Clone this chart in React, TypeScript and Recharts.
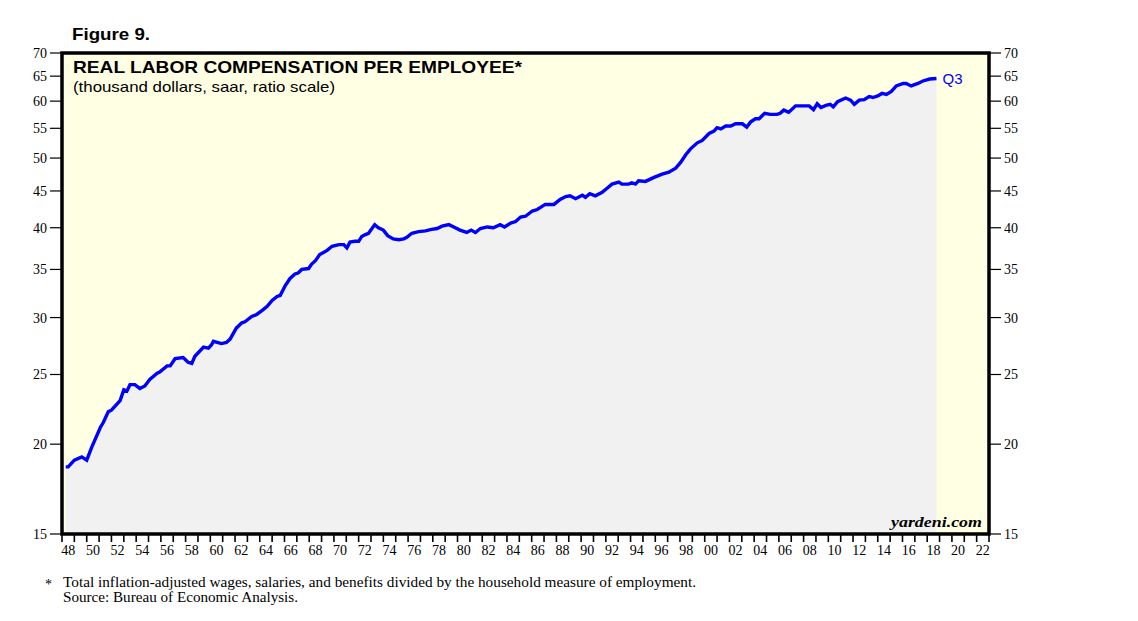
import React from 'react';
import { ComposedChart, Area, XAxis, YAxis, CartesianGrid } from 'recharts';

// time (decimal year) of each observation
const times = [
  1948.3, 1948.5, 1949.0, 1949.6, 1950.0, 1950.4, 1951.1, 1951.35, 1951.75, 1952.0,
  1952.7, 1953.0, 1953.25, 1953.5, 1953.9, 1954.3, 1954.7, 1955.1, 1955.7, 1955.9,
  1956.5, 1956.75, 1957.15, 1957.8, 1958.2, 1958.5, 1958.75, 1959.45, 1959.85, 1960.1,
  1960.25, 1960.9, 1961.3, 1961.6, 1962.1, 1962.55, 1962.8, 1963.35, 1963.75, 1964.2,
  1964.6, 1965.0, 1965.4, 1965.65, 1966.05, 1966.45, 1966.85, 1967.1, 1967.4, 1967.95,
  1968.2, 1968.5, 1968.85, 1969.45, 1969.85, 1970.4, 1970.8, 1971.05, 1971.3, 1971.7,
  1972.0, 1972.25, 1972.5, 1972.8, 1973.3, 1973.6, 1974.0, 1974.35, 1974.8, 1975.25,
  1975.65, 1975.9, 1976.3, 1976.85, 1977.4, 1977.9, 1978.35, 1978.75, 1979.3, 1979.7,
  1980.2, 1980.75, 1981.1, 1981.45, 1981.85, 1982.4, 1982.9, 1983.45, 1983.8, 1984.3,
  1984.7, 1985.1, 1985.5, 1986.05, 1986.45, 1987.1, 1987.8, 1988.3, 1988.75, 1989.1,
  1989.55, 1990.1, 1990.35, 1990.7, 1991.15, 1991.7, 1992.1, 1992.5, 1993.05, 1993.3,
  1993.85, 1994.1, 1994.4, 1994.65, 1995.2, 1995.9, 1996.55, 1997.1, 1997.65, 1998.05,
  1998.45, 1998.85, 1999.4, 1999.8, 2000.35, 2000.75, 2001.0, 2001.3, 2001.7, 2002.1,
  2002.5, 2003.05, 2003.4, 2003.7, 2004.1, 2004.4, 2004.85, 2005.3, 2005.85, 2006.1,
  2006.4, 2006.8, 2007.35, 2008.0, 2008.45, 2008.8, 2009.1, 2009.4, 2009.8, 2010.15,
  2010.4, 2010.75, 2011.4, 2011.8, 2012.1, 2012.5, 2012.9, 2013.3, 2013.6, 2014.0,
  2014.35, 2014.7, 2015.1, 2015.5, 2016.05, 2016.3, 2016.7, 2017.25, 2017.65, 2018.2,
  2018.75,
];

// real labor compensation per employee, thousand dollars
const compensation = [
  18.6, 18.6, 19.0, 19.2, 19.0, 19.8, 21.1, 21.45, 22.2, 22.3,
  23.0, 23.8, 23.7, 24.2, 24.2, 23.9, 24.1, 24.6, 25.1, 25.2,
  25.7, 25.7, 26.3, 26.4, 26.0, 25.9, 26.5, 27.3, 27.2, 27.5,
  27.8, 27.6, 27.7, 28.0, 29.0, 29.5, 29.6, 30.1, 30.3, 30.7,
  31.1, 31.7, 32.1, 32.2, 33.2, 34.0, 34.5, 34.6, 35.0, 35.1,
  35.6, 36.0, 36.7, 37.2, 37.7, 37.9, 37.9, 37.5, 38.2, 38.3,
  38.3, 38.9, 39.1, 39.3, 40.4, 40.0, 39.7, 39.0, 38.6, 38.5,
  38.6, 38.8, 39.3, 39.5, 39.6, 39.8, 39.9, 40.2, 40.4, 40.1,
  39.7, 39.4, 39.7, 39.4, 39.9, 40.1, 40.0, 40.4, 40.1, 40.6,
  40.8, 41.4, 41.5, 42.2, 42.4, 43.1, 43.1, 43.8, 44.2, 44.3,
  43.9, 44.4, 44.1, 44.6, 44.3, 44.8, 45.4, 46.0, 46.3, 46.0,
  46.0, 46.2, 46.0, 46.5, 46.4, 47.0, 47.5, 47.8, 48.4, 49.3,
  50.5, 51.5, 52.5, 52.9, 54.1, 54.5, 55.1, 54.9, 55.4, 55.4,
  55.8, 55.8, 55.2, 56.1, 56.7, 56.7, 57.7, 57.5, 57.5, 57.7,
  58.3, 57.9, 59.1, 59.1, 59.1, 58.4, 59.5, 58.8, 59.2, 59.4,
  58.9, 59.9, 60.6, 60.2, 59.4, 60.2, 60.3, 60.9, 60.7, 61.0,
  61.5, 61.3, 61.9, 63.0, 63.5, 63.5, 63.0, 63.5, 64.0, 64.4,
  64.5,
];

const yTicks = [15, 20, 25, 30, 35, 40, 45, 50, 55, 60, 65, 70];
const xStart = 1948;
const xEnd = 2023;
const xTicks = Array.from({ length: xEnd - xStart + 1 }, (_, i) => xStart + i);
const lastLabel = 'Q3';

const data = times.map((t, i) => ({ t, v: compensation[i] }));

const CHART_W = 1138;
const CHART_H = 621;
const Y_AXIS_W = 40;
const X_AXIS_H = 30;
const MARGIN = { top: 53, right: 109, bottom: 57, left: 22 };
const PLOT_X = MARGIN.left + Y_AXIS_W;
const PLOT_Y = MARGIN.top;
const PLOT_W = CHART_W - MARGIN.left - MARGIN.right - 2 * Y_AXIS_W;
const PLOT_H = CHART_H - MARGIN.top - MARGIN.bottom - X_AXIS_H;
const HALF_YEAR_PX = PLOT_W / (xEnd - xStart) / 2;

const serif = '"Liberation Serif", "Times New Roman", serif';
const sans = '"Liberation Sans", Arial, sans-serif';

const XTick = (props: any) => {
  const { x, y, payload } = props;
  const yr = payload.value as number;
  if (yr % 2 !== 0 || yr >= xEnd) return <g />;
  const lbl = String(yr % 100).padStart(2, '0');
  return (
    <text x={x + HALF_YEAR_PX} y={y} dy="0.71em" textAnchor="middle" fill="#000" fontSize={14} fontFamily={serif}>
      {lbl}
    </text>
  );
};

const EndLabel = (props: any) => {
  const { x, y, index } = props;
  if (index !== data.length - 1) return null;
  return (
    <text x={x + 6} y={y + 5} fill="#0000FF" fontSize={15} fontFamily={sans}>
      {lastLabel}
    </text>
  );
};

export default function App() {
  return (
    <div style={{ position: 'absolute', left: 0, top: 0, width: CHART_W, height: CHART_H, background: '#fff' }}>
      <ComposedChart width={CHART_W} height={CHART_H} data={data} margin={MARGIN}>
        <CartesianGrid horizontal={false} vertical={false} fill="#FFFFE3" yAxisId="left" />
        <XAxis
          dataKey="t"
          type="number"
          domain={[xStart, xEnd]}
          ticks={xTicks}
          interval={0}
          tickSize={8}
          tickMargin={3}
          axisLine={false}
          tickLine={{ stroke: '#000', strokeWidth: 1.6 }}
          tick={<XTick />}
          height={X_AXIS_H}
        />
        <YAxis
          yAxisId="left"
          type="number"
          scale="log"
          domain={[15, 70]}
          ticks={yTicks}
          interval={0}
          allowDataOverflow
          tickSize={12}
          tickMargin={3}
          axisLine={false}
          tickLine={{ stroke: '#000', strokeWidth: 1.2 }}
          tick={{ fill: '#000', fontSize: 14, fontFamily: serif }}
          width={Y_AXIS_W}
        />
        <YAxis
          yAxisId="right"
          orientation="right"
          type="number"
          scale="log"
          domain={[15, 70]}
          ticks={yTicks}
          interval={0}
          allowDataOverflow
          tickSize={12}
          tickMargin={3}
          axisLine={false}
          tickLine={{ stroke: '#000', strokeWidth: 1.2 }}
          tick={{ fill: '#000', fontSize: 14, fontFamily: serif }}
          width={Y_AXIS_W}
        />
        <Area
          yAxisId="left"
          dataKey="v"
          type="linear"
          stroke="#0000FF"
          strokeWidth={3.4}
          fill="#F1F1F1"
          fillOpacity={1}
          baseValue={15}
          dot={false}
          activeDot={false}
          isAnimationActive={false}
          label={<EndLabel />}
        />
      </ComposedChart>
      <svg
        width={CHART_W}
        height={CHART_H}
        style={{ position: 'absolute', left: 0, top: 0, pointerEvents: 'none' }}
      >
        <rect x={PLOT_X} y={PLOT_Y} width={PLOT_W} height={PLOT_H} fill="none" stroke="#000" strokeWidth={3.5} />
        <text x={72} y={40} fontSize={17} fontWeight="bold" fontFamily={sans} textLength={78} lengthAdjust="spacingAndGlyphs" fill="#000">
          Figure 9.
        </text>
        <text x={73} y={73} fontSize={17} fontWeight="bold" fontFamily={sans} textLength={449} lengthAdjust="spacingAndGlyphs" fill="#000">
          REAL LABOR COMPENSATION PER EMPLOYEE*
        </text>
        <text x={73} y={92} fontSize={15} fontFamily={sans} textLength={262} lengthAdjust="spacingAndGlyphs" fill="#000">
          (thousand dollars, saar, ratio scale)
        </text>
        <text x={891} y={527} fontSize={15} fontWeight="bold" fontStyle="italic" fontFamily={serif} textLength={91} lengthAdjust="spacingAndGlyphs" fill="#000">
          yardeni.com
        </text>
        <text x={45} y={589} fontSize={14} fontFamily={serif} fill="#000">*</text>
        <text x={63} y={587} fontSize={14} fontFamily={serif} textLength={633} lengthAdjust="spacingAndGlyphs" fill="#000">
          Total inflation-adjusted wages, salaries, and benefits divided by the household measure of employment.
        </text>
        <text x={63} y={602} fontSize={14} fontFamily={serif} textLength={235} lengthAdjust="spacingAndGlyphs" fill="#000">
          Source: Bureau of Economic Analysis.
        </text>
      </svg>
    </div>
  );
}
